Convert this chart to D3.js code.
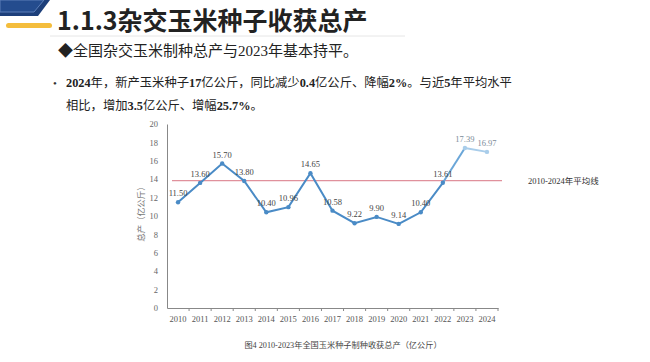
<!DOCTYPE html>
<html>
<head>
<meta charset="utf-8">
<script src="https://cdn.jsdelivr.net/npm/d3@7"></script>
<style>
  body { margin: 0; background: #fff; }
  svg { display: block; }
</style>
</head>
<body>
<svg id="chart" width="650" height="362"></svg>
<script>
// data
var years = ["2010","2011","2012","2013","2014","2015","2016","2017","2018","2019","2020","2021","2022","2023","2024"];
var output = [11.50, 13.60, 15.70, 13.80, 10.40, 10.96, 14.65, 10.58, 9.22, 9.90, 9.14, 10.40, 13.61, 17.39, 16.97];
var avgValue = 13.84;
var yTicks = [0, 2, 4, 6, 8, 10, 12, 14, 16, 18, 20];

var svg = d3.select("#chart");
var serif = "'Liberation Serif', 'Noto Sans CJK SC', serif";
var cjk = "'Liberation Serif', 'Noto Sans CJK SC', sans-serif";

// corner decoration
svg.append("path")
    .attr("d", "M0,0 L50,0 L38,16 L0,16 Z")
    .attr("fill", "#1d3f7a");
svg.append("path")
    .attr("d", "M0,0 L44,0 L34,12 L0,12 Z")
    .attr("fill", "#244c8e")
    .attr("stroke", "#5d7fb8")
    .attr("stroke-width", 1);
svg.append("rect")
    .attr("x", 6).attr("y", 23).attr("width", 46).attr("height", 5).attr("rx", 2.5)
    .attr("fill", "#f4bd3c");

// title
svg.append("text")
    .attr("x", 57).attr("y", 30)
    .attr("font-family", "'Noto Sans CJK SC', sans-serif")
    .attr("font-weight", "bold")
    .attr("font-size", 25)
    .attr("fill", "#222")
    .text("1.1.3杂交玉米种子收获总产");
svg.append("line")
    .attr("x1", 50).attr("x2", 405).attr("y1", 36).attr("y2", 36)
    .attr("stroke", "#e6e6e6").attr("stroke-width", 1);

svg.append("text")
    .attr("x", 58).attr("y", 56)
    .attr("font-family", cjk)
    .attr("font-size", 15)
    .attr("fill", "#222")
    .text("◆全国杂交玉米制种总产与2023年基本持平。");

svg.append("text")
    .attr("x", 53).attr("y", 87)
    .attr("font-size", 11).attr("fill", "#333").text("•");

var line1 = svg.append("text")
    .attr("x", 66).attr("y", 87)
    .attr("font-family", cjk).attr("font-size", 12.3).attr("fill", "#222");
[["2024",1],["年，新产玉米种子",0],["17",1],["亿公斤，同比减少",0],["0.4",1],["亿公斤、降幅",0],["2%",1],["。与近",0],["5",1],["年平均水平",0]]
  .forEach(function(p) {
      line1.append("tspan").attr("font-weight", p[1] ? "bold" : "normal").text(p[0]);
  });
var line2 = svg.append("text")
    .attr("x", 66).attr("y", 110)
    .attr("font-family", cjk).attr("font-size", 12.3).attr("fill", "#222");
[["相比，增加",0],["3.5",1],["亿公斤、增幅",0],["25.7%",1],["。",0]]
  .forEach(function(p) {
      line2.append("tspan").attr("font-weight", p[1] ? "bold" : "normal").text(p[0]);
  });

// chart
var x = d3.scaleBand().domain(years).range([167, 498]);
var y = d3.scaleLinear().domain([0, 20]).range([308, 124]);
var cx = function(d, i) { return x(years[i]) + x.bandwidth() / 2; };

var yAxis = svg.append("g")
    .attr("transform", "translate(167,0)")
    .call(d3.axisLeft(y).tickValues(yTicks).tickSize(0).tickPadding(9));
yAxis.select(".domain").attr("stroke", "#888");
yAxis.selectAll("text").attr("font-family", serif).attr("font-size", 8.5).attr("fill", "#666");

var xAxis = svg.append("g")
    .attr("transform", "translate(0,308)")
    .call(d3.axisBottom(x).tickSize(0).tickPadding(8));
xAxis.select(".domain").attr("stroke", "#888");
xAxis.selectAll("text").attr("font-family", serif).attr("font-size", 8.5).attr("fill", "#555");
// ticks between categories
xAxis.selectAll(".sep")
    .data(years.slice(1).concat(["end"]))
    .enter().append("line")
    .attr("x1", function(d, i) { return x(years[i]) + x.bandwidth(); })
    .attr("x2", function(d, i) { return x(years[i]) + x.bandwidth(); })
    .attr("y1", 0).attr("y2", 3)
    .attr("stroke", "#888");

svg.append("text")
    .attr("transform", "translate(144,212) rotate(-90)")
    .attr("text-anchor", "middle")
    .attr("font-family", "'Noto Sans CJK SC', sans-serif")
    .attr("font-size", 8.5).attr("fill", "#777")
    .text("总产（亿公斤）");

// average line
svg.append("line")
    .attr("x1", 172).attr("x2", 502)
    .attr("y1", y(avgValue)).attr("y2", y(avgValue))
    .attr("stroke", "#e0919c").attr("stroke-width", 1.3);
svg.append("text")
    .attr("x", 528).attr("y", y(avgValue) + 3.5)
    .attr("font-family", cjk).attr("font-size", 8.5).attr("fill", "#333")
    .text("2010-2024年平均线");

// series line
var lineGen = d3.line().x(cx).y(function(d) { return y(d); });
svg.append("path")
    .datum(output.slice(0, 13))
    .attr("d", lineGen)
    .attr("fill", "none").attr("stroke", "#4a8bc6").attr("stroke-width", 2);
svg.append("path")
    .datum(output)
    .attr("d", function(d) {
        return d3.line().x(function(v, i) { return cx(v, i + 12); }).y(function(v) { return y(v); })(d.slice(12, 14));
    })
    .attr("fill", "none").attr("stroke", "#6aa6d8").attr("stroke-width", 2);
svg.append("path")
    .datum(output)
    .attr("d", function(d) {
        return d3.line().x(function(v, i) { return cx(v, i + 13); }).y(function(v) { return y(v); })(d.slice(13));
    })
    .attr("fill", "none").attr("stroke", "#a9cdea").attr("stroke-width", 2);

svg.selectAll(".pt")
    .data(output)
    .enter().append("circle")
    .attr("cx", cx).attr("cy", function(d) { return y(d); })
    .attr("r", 2.2)
    .attr("fill", function(d, i) { return i >= 13 ? "#a9cdea" : "#4a8bc6"; });

svg.selectAll(".lbl")
    .data(output)
    .enter().append("text")
    .attr("x", cx).attr("y", function(d) { return y(d) - 6; })
    .attr("text-anchor", "middle")
    .attr("font-family", serif).attr("font-size", 8.5)
    .attr("fill", function(d, i) { return i >= 13 ? "#7b8b99" : "#444"; })
    .text(function(d) { return d.toFixed(2); });

// caption
svg.append("text")
    .attr("x", 343).attr("y", 348)
    .attr("text-anchor", "middle")
    .attr("font-family", cjk).attr("font-size", 8.2).attr("fill", "#444")
    .text("图4 2010-2023年全国玉米种子制种收获总产（亿公斤）");
</script>
</body>
</html>
